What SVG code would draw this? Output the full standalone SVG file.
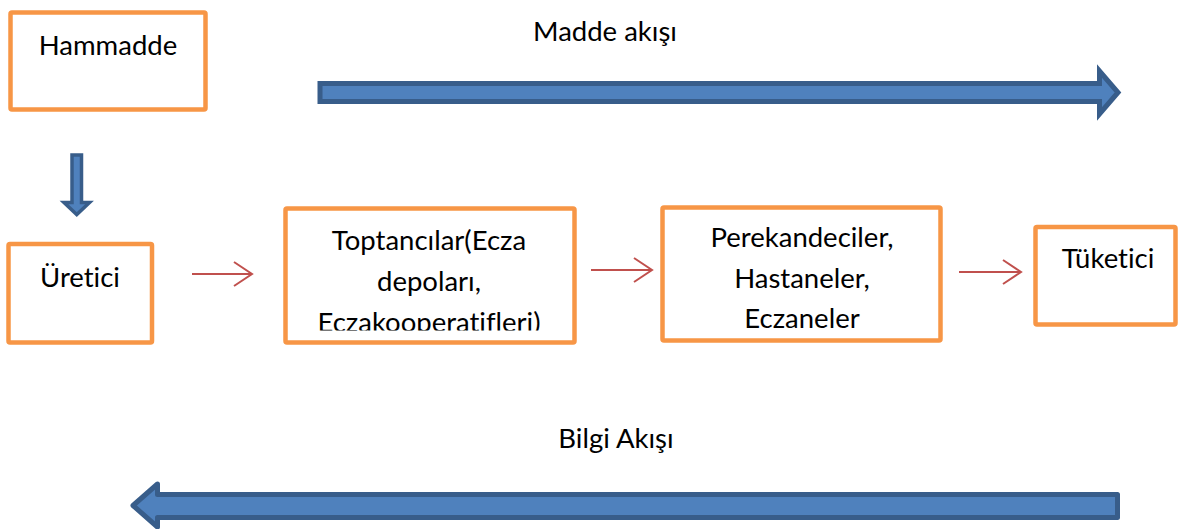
<svg xmlns="http://www.w3.org/2000/svg" width="1181" height="529" viewBox="0 0 1181 529">
<style>
.box{fill:#fff;stroke:#F79646;stroke-width:4.5}
.t{font-family:Lato,"Open Sans","Liberation Sans",sans-serif;font-size:27.5px;fill:#000;text-anchor:middle;font-variant-ligatures:none}
.big{fill:#4F81BD;stroke:#385D8A;stroke-width:5}
.red{stroke:#C0504D;stroke-width:2;fill:none}
</style>
<defs>
<marker id="ah" markerWidth="22" markerHeight="26" refX="20" refY="13" orient="auto" markerUnits="userSpaceOnUse">
<path d="M2,1 L20,13 L2,25" fill="none" stroke="#C0504D" stroke-width="2"/>
</marker>
<clipPath id="clipT"><rect x="283" y="200" width="300" height="130.5"/></clipPath>
</defs>
<text class="t" x="605" y="41">Madde akışı</text>
<text class="t" x="616" y="448">Bilgi Akışı</text>
<g id="connectors">
<path class="big" stroke-linejoin="miter" d="M320,83.5 H1099.5 V71 L1118,92.5 L1099.5,114 V101.5 H320 Z"/>
<path d="M72,155 H81.5 V202.5 H89.5 L76.75,214.5 L64,202.5 H72 Z" fill="#4F81BD" stroke="#385D8A" stroke-width="3.5"/>
<path class="big" stroke-linejoin="round" d="M1117.5,494.5 H157.5 V484 L133,505.5 L157.5,527 V517.5 H1117.5 Z"/>
<line class="red" x1="192" y1="274" x2="252" y2="274" marker-end="url(#ah)"/>
<line class="red" x1="591" y1="270" x2="652" y2="270" marker-end="url(#ah)"/>
<line class="red" x1="959" y1="272" x2="1021" y2="272" marker-end="url(#ah)"/>
</g>
<g id="hammadde">
<rect class="box" x="10.5" y="12.5" width="195" height="97" rx="1.5"/>
<text class="t" x="108" y="55">Hammadde</text>
</g>
<g id="uretici">
<rect class="box" x="8.5" y="244" width="143.5" height="98.5" rx="1.5"/>
<text class="t" x="80" y="287">Üretici</text>
</g>
<g id="toptancilar">
<rect class="box" x="285.5" y="208.5" width="289" height="134" rx="1.5"/>
<text class="t" x="429" y="250">Toptancılar(Ecza</text>
<text class="t" x="429" y="291">depoları,</text>
<text class="t" x="429" y="332" clip-path="url(#clipT)">Eczakooperatifleri)</text>
</g>
<g id="perekandeciler">
<rect class="box" x="662.5" y="207.5" width="278" height="133" rx="1.5"/>
<text class="t" x="802" y="247">Perekandeciler,</text>
<text class="t" x="802" y="288">Hastaneler,</text>
<text class="t" x="802" y="328">Eczaneler</text>
</g>
<g id="tuketici">
<rect class="box" x="1035.5" y="227" width="140" height="97.5" rx="1.5"/>
<text class="t" x="1108" y="268">Tüketici</text>
</g>
</svg>
